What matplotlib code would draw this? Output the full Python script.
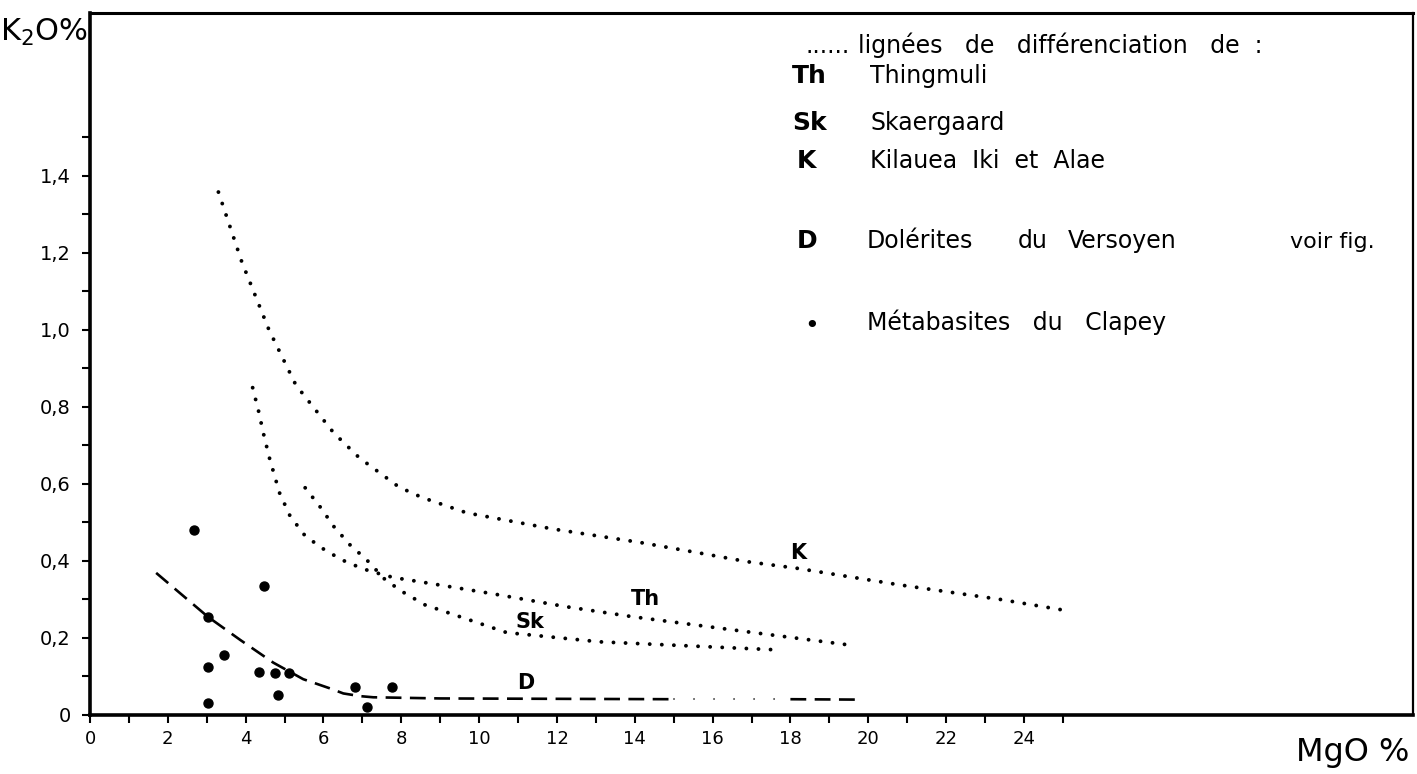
import matplotlib.pyplot as plt

# Métabasites du Clapey (points)
clapey_mgo = [2.68, 3.03, 3.03, 3.03, 3.44, 4.34, 4.48, 4.76, 4.84, 5.11, 6.81, 7.13, 7.75]
clapey_k2o = [0.48, 0.255, 0.125, 0.03, 0.155, 0.112, 0.336, 0.109, 0.052, 0.109, 0.072, 0.02, 0.072]

# differentiation trends (dotted)
k_mgo = [3.30, 3.90, 4.60, 5.29, 6.26, 6.92, 7.94, 8.53, 9.68, 11.9, 14.14, 15.7, 16.9, 18.17, 20.8, 23.4, 25.1]
k_k2o = [1.358, 1.177, 1.0, 0.857, 0.733, 0.668, 0.592, 0.565, 0.525, 0.483, 0.448, 0.42, 0.398, 0.381, 0.338, 0.30, 0.271]

th_mgo = [4.18, 4.33, 4.46, 4.61, 4.87, 5.14, 5.53, 6.07, 6.61, 7.18, 7.8, 8.48, 10.28, 12.25, 13.96, 16.9, 19.5]
th_k2o = [0.85, 0.79, 0.73, 0.668, 0.577, 0.517, 0.465, 0.426, 0.396, 0.374, 0.357, 0.346, 0.316, 0.281, 0.255, 0.216, 0.182]

sk_mgo = [5.53, 5.91, 6.27, 6.68, 7.11, 7.58, 8.03, 8.61, 10.71, 13.1, 16.8, 17.7]
sk_k2o = [0.590, 0.541, 0.489, 0.442, 0.403, 0.352, 0.32, 0.286, 0.214, 0.19, 0.173, 0.169]

# Dolérites du Versoyen (dashed)
d_mgo = [1.70, 3.03, 3.86, 4.71, 5.48, 6.17, 6.51, 6.94, 7.28, 9.0, 12.0, 15.0]
d_k2o = [0.369, 0.255, 0.195, 0.136, 0.093, 0.069, 0.056, 0.049, 0.046, 0.043, 0.042, 0.041]
d_gap_mgo = [15.0, 18.0]
d_gap_k2o = [0.041, 0.041]
d_tail_mgo = [18.0, 19.7]
d_tail_k2o = [0.041, 0.040]

ytick_vals = [0, 0.2, 0.4, 0.6, 0.8, 1.0, 1.2, 1.4]
ytick_labels = ['0', '0,2', '0,4', '0,6', '0,8', '1,0', '1,2', '1,4']
xtick_vals = list(range(0, 25, 2))

W, H = 1417, 774


def px(x, y):
    # pixel position -> figure fraction
    return x / W, 1 - y / H


plt.rcParams['font.family'] = ['DejaVu Sans']

fig = plt.figure(figsize=(14.17, 7.74), dpi=100)
ax = fig.add_axes([90 / W, 59 / H, 1323 / W, 702 / H])
ax.set_xlim(0, 34.0)
ax.set_ylim(0, 1.823)

dot_style = dict(color='black', linewidth=2.8, linestyle=(0, (0.01, 3.1)),
                 dash_capstyle='round')
ax.plot(k_mgo, k_k2o, **dot_style)
ax.plot(th_mgo, th_k2o, **dot_style)
ax.plot(sk_mgo, sk_k2o, **dot_style)

dash_style = dict(color='black', linewidth=1.9, linestyle=(0, (6.0, 3.2)))
ax.plot(d_mgo, d_k2o, **dash_style)
ax.plot(d_gap_mgo, d_gap_k2o, color='black', linewidth=1.2,
        linestyle=(0, (0.01, 12)), dash_capstyle='round')
ax.plot(d_tail_mgo, d_tail_k2o, **dash_style)

ax.scatter(clapey_mgo, clapey_k2o, s=42, color='black', zorder=3)

# curve labels
lab = dict(fontsize=15, fontweight='bold', ha='center', va='center')
ax.text(18.2, 0.42, 'K', **lab)
ax.text(14.27, 0.30, 'Th', **lab)
ax.text(11.3, 0.242, 'Sk', **lab)
ax.text(11.2, 0.083, 'D', **lab)

# axes styling
for side in ['left', 'bottom']:
    ax.spines[side].set_linewidth(2.6)
ax.spines['top'].set_linewidth(2.2)
ax.spines['right'].set_linewidth(1.6)

ax.set_yticks([i / 10 for i in range(0, 16)], minor=True)
ax.set_yticks(ytick_vals)
ax.set_yticklabels(ytick_labels, fontsize=14)
ax.set_xticks(list(range(0, 26)), minor=True)
ax.set_xticks(xtick_vals)
ax.set_xticklabels([str(v) for v in xtick_vals], fontsize=13)
ax.tick_params(axis='both', which='both', direction='out', length=6, width=1.5)
ax.tick_params(axis='y', pad=8)
ax.tick_params(axis='x', pad=5)

# axis titles
fig.text(*px(88, 32), r'K$_2$O%', fontsize=22, ha='right', va='center')
fig.text(*px(1296, 752), 'MgO %', fontsize=23, ha='left', va='center')

# legend block
t = dict(fontsize=17, va='baseline', ha='left')
fig.text(*px(806, 53), '......', **t)
fig.text(*px(858, 53), 'lignées   de   différenciation   de  :', **t)
fig.text(*px(792, 83), 'Th', fontsize=18, fontweight='bold', va='baseline')
fig.text(*px(870, 83), 'Thingmuli', **t)
fig.text(*px(792, 130), 'Sk', fontsize=18, fontweight='bold', va='baseline')
fig.text(*px(870, 130), 'Skaergaard', **t)
fig.text(*px(797, 168), 'K', fontsize=18, fontweight='bold', va='baseline')
fig.text(*px(870, 168), 'Kilauea  Iki  et  Alae', **t)
fig.text(*px(797, 248), 'D', fontsize=18, fontweight='bold', va='baseline')
fig.text(*px(867, 248), 'Dolérites', **t)
fig.text(*px(1018, 248), 'du', **t)
fig.text(*px(1068, 248), 'Versoyen', **t)
fig.text(*px(1290, 248), 'voir fig.', fontsize=16, va='baseline')
fig.text(*px(812, 326), '•', fontsize=18, ha='center', va='center')
fig.text(*px(867, 330), 'Métabasites   du   Clapey', **t)

fig.savefig('out.png', dpi=100, facecolor='white')
